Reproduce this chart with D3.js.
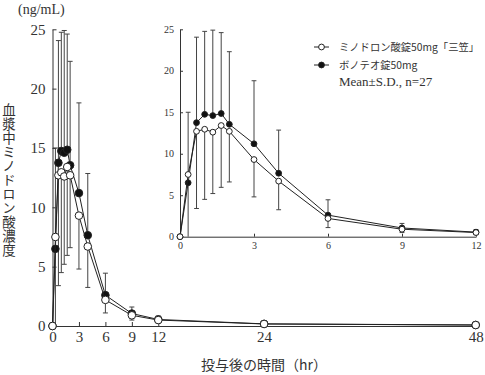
<!DOCTYPE html>
<html>
<head>
<meta charset="utf-8">
<script src="https://cdn.jsdelivr.net/npm/d3@7"></script>
<style>
  body { margin: 0; background: #fff; }
  .axis text { font-family: "Liberation Serif", "DejaVu Serif", serif; fill: #333; }
  .axis line, .axis path { stroke: #333; }
  .jp { font-family: "Noto Sans CJK JP", sans-serif; fill: #333; }
  .serif { font-family: "Liberation Serif", serif; fill: #333; }
</style>
</head>
<body>
<svg id="chart" width="485" height="375"></svg>
<script>
// sampling times (hr)
const times = [0, 0.33, 0.67, 1, 1.33, 1.67, 2, 3, 4, 6, 9, 12, 24, 48];
// ミノドロン酸錠50mg「三笠」 (open circles)
const mikasaMean = [0, 7.5, 12.7, 12.95, 12.6, 13.4, 12.7, 9.3, 6.7, 2.2, 0.9, 0.5, 0.17, 0.08];
const mikasaSD = [0, 7.5, 9.3, 8.45, 7.4, 7.45, 6.1, 4.5, 3.45, 1.1, 0.4, 0.25, 0.1, 0.05];
// ボノテオ錠50mg (filled circles)
const bonoteoMean = [0, 6.5, 13.75, 14.75, 14.6, 14.85, 13.55, 11.2, 7.65, 2.6, 1.05, 0.55, 0.18, 0.09];
const bonoteoSD = [0, 6.9, 10.3, 10.0, 10.3, 9.75, 8.75, 7.6, 5.2, 1.85, 0.55, 0.3, 0.1, 0.05];

const mainXTicks = [0, 3, 6, 9, 12, 24, 48];
const insetXTicks = [0, 3, 6, 9, 12];
const yTicks = [0, 5, 10, 15, 20, 25];

const svg = d3.select("#chart");

function series(means, sds) {
  return times.map((t, i) => ({ t, v: means[i], sd: sds[i], i }));
}
const mikasa = series(mikasaMean, mikasaSD);
const bonoteo = series(bonoteoMean, bonoteoSD);

function drawPanel(opts) {
  const { x, y, xTicks, fontSize, r, cap, maxT } = opts;
  const g = svg.append("g");

  g.append("g")
    .attr("class", "axis")
    .attr("transform", `translate(0,${y(0)})`)
    .call(d3.axisBottom(x).tickValues(xTicks).tickSize(-opts.tick).tickSizeOuter(0).tickPadding(opts.xPad))
    .call((a) => a.selectAll("text").attr("font-size", fontSize));

  g.append("g")
    .attr("class", "axis")
    .attr("transform", `translate(${x(0)},0)`)
    .call(d3.axisLeft(y).tickValues(yTicks).tickSize(-opts.tick).tickSizeOuter(0).tickPadding(opts.yPad))
    .call((a) => a.selectAll("text").attr("font-size", fontSize));

  const a = mikasa.filter((d) => d.t <= maxT);
  const b = bonoteo.filter((d) => d.t <= maxT);

  // error bars: upper series goes up, lower series goes down
  const bars = [];
  a.forEach((d, k) => {
    const e = b[k];
    if (d.t === 0) return;
    const hi = d.v >= e.v ? d : e;
    const lo = d.v >= e.v ? e : d;
    bars.push({ t: d.t, from: hi.v, to: hi.v + hi.sd });
    bars.push({ t: d.t, from: lo.v, to: Math.max(0, lo.v - lo.sd) });
  });
  const eb = g.append("g").attr("stroke", "#444").attr("stroke-width", 1);
  eb.selectAll("line.v")
    .data(bars)
    .join("line")
    .attr("x1", (d) => x(d.t))
    .attr("x2", (d) => x(d.t))
    .attr("y1", (d) => y(d.from))
    .attr("y2", (d) => y(d.to));
  eb.selectAll("line.c")
    .data(bars.filter((d) => d.to > 0))
    .join("line")
    .attr("x1", (d) => x(d.t) - cap)
    .attr("x2", (d) => x(d.t) + cap)
    .attr("y1", (d) => y(d.to))
    .attr("y2", (d) => y(d.to));

  const line = d3.line().x((d) => x(d.t)).y((d) => y(d.v));
  [[b, "#111"], [a, "#fff"]].forEach(([data, fill]) => {
    g.append("path")
      .datum(data)
      .attr("fill", "none")
      .attr("stroke", "#222")
      .attr("stroke-width", 1)
      .attr("d", line);
    g.append("g")
      .selectAll("circle")
      .data(data)
      .join("circle")
      .attr("cx", (d) => x(d.t))
      .attr("cy", (d) => y(d.v))
      .attr("r", r)
      .attr("fill", fill)
      .attr("stroke", "#222")
      .attr("stroke-width", 1);
  });
}

// main panel
const xMain = d3.scaleLinear().domain([0, 48]).range([52.5, 475.7]);
const yMain = d3.scaleLinear().domain([0, 25]).range([326, 29.3]);
drawPanel({ x: xMain, y: yMain, xTicks: mainXTicks, fontSize: 15, r: 3.8, cap: 2.5, maxT: 48, tick: 4, xPad: 5, yPad: 7 });

// inset panel
const xIn = d3.scaleLinear().domain([0, 12]).range([180, 476]);
const yIn = d3.scaleLinear().domain([0, 25]).range([236.7, 29.3]);
drawPanel({ x: xIn, y: yIn, xTicks: insetXTicks, fontSize: 10, r: 2.9, cap: 2.4, maxT: 12, tick: 3, xPad: 5, yPad: 6 });

// unit label
svg.append("text").attr("class", "serif").attr("x", 18).attr("y", 14).attr("font-size", 14).text("(ng/mL)");

// vertical y label
svg.append("text")
  .attr("class", "jp")
  .attr("font-size", 13.5)
  .attr("x", 9)
  .attr("y", 103)
  .style("writing-mode", "vertical-rl")
  .style("letter-spacing", "0.5px")
  .text("血漿中ミノドロン酸濃度");

// x title
svg.append("text")
  .attr("class", "jp")
  .attr("x", 264)
  .attr("y", 370)
  .attr("font-size", 14)
  .attr("text-anchor", "middle")
  .text("投与後の時間（hr）");

// legend
const legend = svg.append("g");
const legendItems = [
  { label: "ミノドロン酸錠50mg「三笠」", fill: "#fff", yy: 47 },
  { label: "ボノテオ錠50mg", fill: "#111", yy: 65 }
];
legendItems.forEach((d) => {
  legend.append("line").attr("x1", 314).attr("x2", 329).attr("y1", d.yy).attr("y2", d.yy).attr("stroke", "#222");
  legend.append("circle").attr("cx", 321.5).attr("cy", d.yy).attr("r", 2.9).attr("fill", d.fill).attr("stroke", "#222");
  legend.append("text").attr("class", "jp").attr("x", 339).attr("y", d.yy + 4).attr("font-size", 10.3).text(d.label);
});
legend.append("text").attr("class", "serif").attr("x", 339).attr("y", 86).attr("font-size", 13).text("Mean±S.D.,  n=27");
</script>
</body>
</html>
